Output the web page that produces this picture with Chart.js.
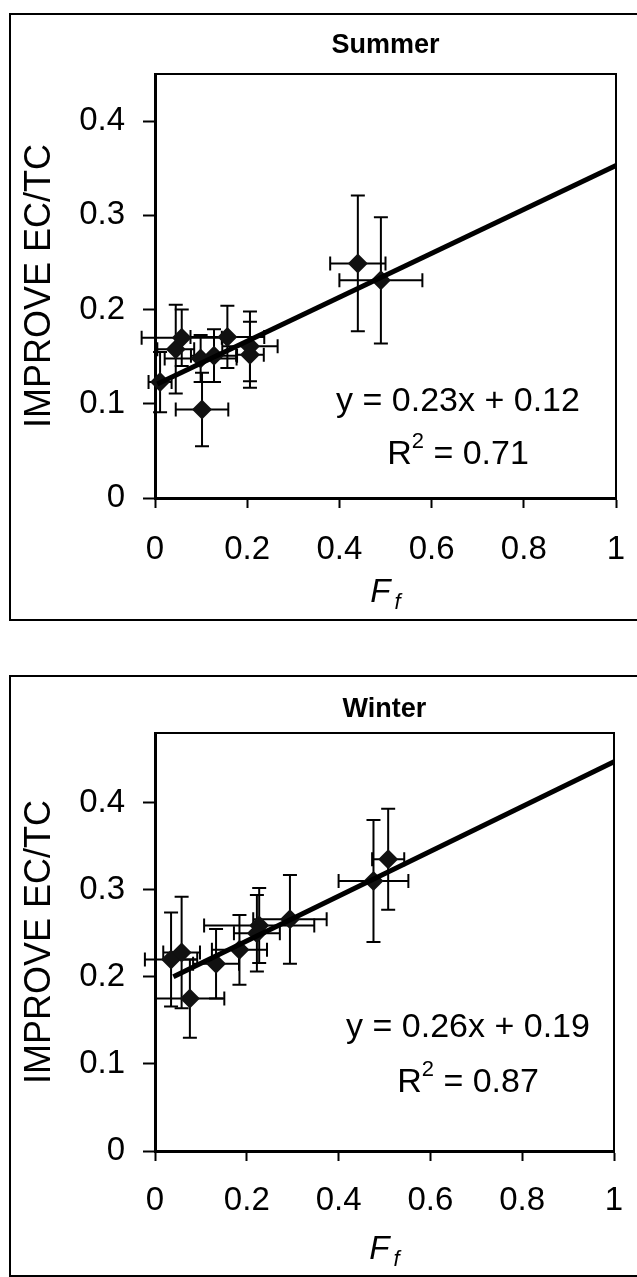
<!DOCTYPE html>
<html><head><meta charset="utf-8">
<script src="https://cdn.jsdelivr.net/npm/chart.js@4.4.0/dist/chart.umd.min.js"></script>
<style>
html,body{margin:0;padding:0;background:#fff;width:637px;height:1277px;overflow:hidden;position:relative;}
.box{position:absolute;border:2px solid #000;box-sizing:border-box;}
canvas{position:absolute;left:0;}
</style></head><body>
<div class="box" style="left:9px;top:13px;width:640px;height:608px"></div>
<div class="box" style="left:9px;top:675px;width:640px;height:602px"></div>
<canvas id="c1" width="637" height="640" style="top:0px"></canvas>
<canvas id="c2" width="637" height="637" style="top:640px"></canvas>
<script>
// ---------- data ----------
const xTicks = [0, 0.2, 0.4, 0.6, 0.8, 1];
const xTickLabels = ['0', '0.2', '0.4', '0.6', '0.8', '1'];
const yTicks = [0, 0.1, 0.2, 0.3, 0.4];
const yTickLabels = ['0', '0.1', '0.2', '0.3', '0.4'];

const summerX    = [0.011, 0.045, 0.058, 0.099, 0.128, 0.157, 0.206, 0.206, 0.102, 0.440, 0.490];
const summerY    = [0.123, 0.158, 0.170, 0.148, 0.151, 0.171, 0.161, 0.152, 0.094, 0.249, 0.231];
const summerXErr = [0.025, 0.040, 0.087, 0.078, 0.050, 0.080, 0.060, 0.030, 0.057, 0.060, 0.090];
const summerYErr = [0.032, 0.047, 0.030, 0.025, 0.028, 0.033, 0.037, 0.035, 0.039, 0.072, 0.067];
const summerFitX = [0.005, 1];
const summerFitY = [0.121, 0.353];

const winterX    = [0.035, 0.058, 0.076, 0.133, 0.184, 0.227, 0.222, 0.294, 0.476, 0.508];
const winterY    = [0.220, 0.228, 0.175, 0.215, 0.231, 0.259, 0.250, 0.266, 0.310, 0.335];
const winterXErr = [0.057, 0.040, 0.075, 0.050, 0.060, 0.120, 0.050, 0.080, 0.076, 0.035];
const winterYErr = [0.054, 0.064, 0.045, 0.040, 0.040, 0.043, 0.044, 0.051, 0.070, 0.058];
const winterFitX = [0.040, 1];
const winterFitY = [0.200, 0.447];

// ---------- drawing ----------
const FONT = "'Liberation Sans', Arial, Helvetica, sans-serif";

const overlay = {
  id: 'overlay',
  beforeDatasetsDraw(chart) {
    const o = chart.options.plugins.overlay;
    const {ctx} = chart, x = chart.scales.x, y = chart.scales.y;
    const cap = 7;
    ctx.save();
    ctx.strokeStyle = '#000';
    ctx.lineWidth = 2;
    o.xs.forEach((xv, i) => {
      const yv = o.ys[i];
      const px = x.getPixelForValue(xv), py = y.getPixelForValue(yv);
      const x0 = x.getPixelForValue(xv - o.xe[i]), x1 = x.getPixelForValue(xv + o.xe[i]);
      const y0 = y.getPixelForValue(yv - o.ye[i]), y1 = y.getPixelForValue(yv + o.ye[i]);
      ctx.beginPath();
      ctx.moveTo(x0, py); ctx.lineTo(x1, py);
      ctx.moveTo(x0, py - cap); ctx.lineTo(x0, py + cap);
      ctx.moveTo(x1, py - cap); ctx.lineTo(x1, py + cap);
      ctx.moveTo(px, y0); ctx.lineTo(px, y1);
      ctx.moveTo(px - cap, y0); ctx.lineTo(px + cap, y0);
      ctx.moveTo(px - cap, y1); ctx.lineTo(px + cap, y1);
      ctx.stroke();
    });
    ctx.restore();
  },
  afterDraw(chart) {
    const o = chart.options.plugins.overlay;
    const {ctx, chartArea: a} = chart;
    ctx.save();
    // plot frame top/right
    ctx.strokeStyle = '#000';
    ctx.lineWidth = 2;
    ctx.beginPath();
    ctx.moveTo(a.left, a.top); ctx.lineTo(a.right, a.top); ctx.lineTo(a.right, a.bottom);
    ctx.stroke();
    ctx.fillStyle = '#000';
    // title
    ctx.font = 'bold 27px ' + FONT;
    ctx.textAlign = 'center'; ctx.textBaseline = 'middle';
    ctx.fillText(o.title, (a.left + a.right) / 2, o.titleY);
    // y title
    ctx.save();
    ctx.translate(40, (a.top + a.bottom) / 2);
    ctx.rotate(-Math.PI / 2);
    ctx.font = '36px ' + FONT;
    ctx.fillText('IMPROVE EC/TC', 0, 0);
    ctx.restore();
    // x title F_f
    ctx.textAlign = 'left';
    ctx.font = 'italic 33px ' + FONT;
    const wF = ctx.measureText('F').width;
    ctx.font = 'italic 22px ' + FONT;
    const wf = ctx.measureText('f').width;
    let sx = (a.left + a.right) / 2 - (wF + 4 + wf) / 2;
    ctx.font = 'italic 33px ' + FONT;
    ctx.fillText('F', sx, o.xTitleY);
    ctx.font = 'italic 22px ' + FONT;
    ctx.fillText('f', sx + wF + 4, o.xTitleY + 10);
    // equation
    ctx.font = '34px ' + FONT;
    ctx.textAlign = 'center';
    ctx.fillText(o.eq, o.eqX, o.eqY);
    // R^2
    ctx.textAlign = 'left';
    ctx.font = '34px ' + FONT;
    const wR = ctx.measureText('R').width;
    const wRest = ctx.measureText(' = ' + o.r2).width;
    ctx.font = '22px ' + FONT;
    const w2 = ctx.measureText('2').width;
    let rx = o.eqX - (wR + w2 + wRest) / 2;
    ctx.font = '34px ' + FONT;
    ctx.fillText('R', rx, o.r2Y);
    ctx.font = '22px ' + FONT;
    ctx.fillText('2', rx + wR, o.r2Y - 13);
    ctx.font = '34px ' + FONT;
    ctx.fillText(' = ' + o.r2, rx + wR + w2, o.r2Y);
    ctx.restore();
  }
};

function makeChart(id, cfg) {
  const canvas = document.getElementById(id);
  const H = canvas.height, W = canvas.width;
  const XH = 80;
  return new Chart(canvas, {
    type: 'scatter',
    data: {
      datasets: [
        {
          type: 'line',
          data: cfg.fitX.map((v, i) => ({x: v, y: cfg.fitY[i]})),
          borderColor: '#000', borderWidth: 5, pointRadius: 0,
          fill: false, order: 0, clip: false
        },
        {
          data: cfg.xs.map((v, i) => ({x: v, y: cfg.ys[i]})),
          pointStyle: 'rectRot', pointRadius: 10, backgroundColor: '#111',
          borderColor: '#111', borderWidth: 0, order: 1, clip: false
        }
      ]
    },
    options: {
      responsive: false, animation: false, devicePixelRatio: 1,
      layout: {padding: {top: cfg.top, left: 0, right: W - cfg.right, bottom: H - cfg.bottom - XH}},
      plugins: {
        legend: {display: false}, tooltip: {enabled: false}, title: {display: false},
        overlay: {
          xs: cfg.xs, ys: cfg.ys, xe: cfg.xe, ye: cfg.ye,
          title: cfg.title, titleY: cfg.titleY, xTitleY: cfg.xTitleY,
          eq: cfg.eq, r2: cfg.r2, eqX: cfg.eqX, eqY: cfg.eqY, r2Y: cfg.r2Y
        }
      },
      scales: {
        x: {
          type: 'linear', min: 0, max: 1,
          afterBuildTicks: s => { s.ticks = xTicks.map(v => ({value: v})); },
          afterFit: s => { s.height = XH; s.paddingLeft = 0; s.paddingRight = 0; },
          ticks: {callback: (v, i) => xTickLabels[i], color: '#000', font: {family: FONT, size: 33}, padding: cfg.xPad, maxRotation: 0, autoSkip: false},
          grid: {drawOnChartArea: false, drawTicks: true, tickLength: 10, tickWidth: 2, tickColor: '#000'},
          border: {display: true, color: '#000', width: 3}
        },
        y: {
          type: 'linear', min: 0, max: cfg.ymax,
          afterBuildTicks: s => { s.ticks = yTicks.map(v => ({value: v})); },
          afterFit: s => { s.width = cfg.left; s.paddingTop = 0; s.paddingBottom = 0; },
          ticks: {callback: (v, i) => yTickLabels[i], color: '#000', font: {family: FONT, size: 33}, padding: 18, autoSkip: false},
          grid: {drawOnChartArea: false, drawTicks: true, tickLength: 12, tickWidth: 2, tickColor: '#000'},
          border: {display: true, color: '#000', width: 3}
        }
      }
    },
    plugins: [overlay]
  });
}

makeChart('c1', {
  xs: summerX, ys: summerY, xe: summerXErr, ye: summerYErr,
  fitX: summerFitX, fitY: summerFitY,
  top: 74, bottom: 498, left: 155, right: 616, ymax: 0.45, xPad: 22,
  title: 'Summer', titleY: 46, xTitleY: 593,
  eq: 'y = 0.23x + 0.12', r2: '0.71', eqX: 458, eqY: 402, r2Y: 455
});
makeChart('c2', {
  xs: winterX, ys: winterY, xe: winterXErr, ye: winterYErr,
  fitX: winterFitX, fitY: winterFitY,
  top: 93, bottom: 511, left: 155, right: 614, ymax: 0.48, xPad: 20,
  title: 'Winter', titleY: 70, xTitleY: 610,
  eq: 'y = 0.26x + 0.19', r2: '0.87', eqX: 468, eqY: 388, r2Y: 443
});
</script>
</body></html>
